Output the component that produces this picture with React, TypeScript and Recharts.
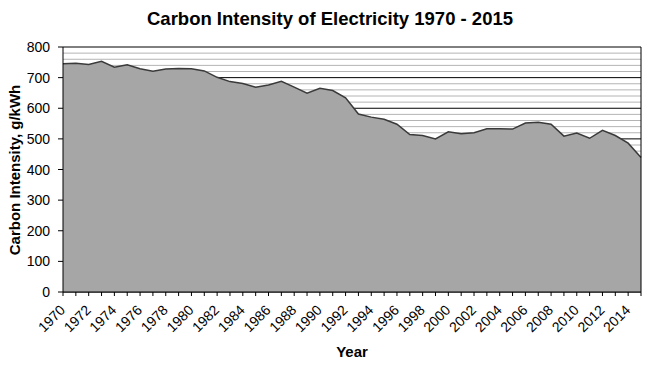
import { Area, AreaChart, CartesianGrid, ReferenceLine, XAxis, YAxis } from "recharts";

const years = [
  1970, 1971, 1972, 1973, 1974, 1975, 1976, 1977, 1978, 1979,
  1980, 1981, 1982, 1983, 1984, 1985, 1986, 1987, 1988, 1989,
  1990, 1991, 1992, 1993, 1994, 1995, 1996, 1997, 1998, 1999,
  2000, 2001, 2002, 2003, 2004, 2005, 2006, 2007, 2008, 2009,
  2010, 2011, 2012, 2013, 2014, 2015,
];

const intensity = [
  745, 747, 743, 753, 734, 742, 729, 721, 728, 730,
  729, 722, 701, 687, 681, 669, 676, 688, 669, 649,
  665, 658, 634, 581, 571, 564, 548, 514, 511, 500,
  523, 517, 520, 533, 533, 532, 552, 554, 548, 509,
  519, 502, 528, 511, 486, 439,
];

// grid every 20, labels every 100
const yTicks = [
  0, 20, 40, 60, 80, 100, 120, 140, 160, 180, 200, 220, 240, 260, 280, 300,
  320, 340, 360, 380, 400, 420, 440, 460, 480, 500, 520, 540, 560, 580, 600,
  620, 640, 660, 680, 700, 720, 740, 760, 780, 800,
];

const data = years.map((year, i) => ({ year, value: intensity[i] }));

const font = "'Liberation Sans', Arial, sans-serif";

const GridLine = (props: any) => {
  const major = yTicks[props.index] % 100 === 0;
  return (
    <line
      key={props.key}
      x1={props.x1}
      y1={props.y1}
      x2={props.x2}
      y2={props.y2}
      stroke={major ? "#000" : "#b4b4b4"}
      strokeWidth={1}
    />
  );
};

const YTick = (props: any) => {
  const { x, y, payload } = props;
  if (payload.value % 100 !== 0) return null;
  return (
    <g>
      <line x1={x + 5} y1={y} x2={x + 10} y2={y} stroke="#000" />
      <text x={x - 3} y={y} dy={5} textAnchor="end" fontSize={14} fill="#000" fontFamily={font}>
        {payload.value}
      </text>
    </g>
  );
};

const XTick = (props: any) => {
  const { x, y, payload } = props;
  if (payload.value % 2 !== 0) return null;
  const tx = x + 3;
  const ty = y + 13;
  return (
    <text
      x={tx}
      y={ty}
      textAnchor="end"
      fontSize={14}
      fill="#000"
      fontFamily={font}
      transform={`rotate(-45 ${tx} ${ty})`}
    >
      {payload.value}
    </text>
  );
};

const App = () => {
  return (
    <div style={{ position: "absolute", left: 0, top: 0, width: 656, height: 368, background: "#fff" }}>
      <div
        style={{
          position: "absolute",
          left: 0,
          width: 656,
          top: 8,
          textAlign: "center",
          fontFamily: font,
          fontWeight: "bold",
          fontSize: 18.5,
          paddingLeft: 2,
        }}
      >
        Carbon Intensity of Electricity 1970 - 2015
      </div>
      <div
        style={{
          position: "absolute",
          left: 14,
          top: 170,
          transform: "translate(-50%, -50%) rotate(-90deg)",
          fontFamily: font,
          fontWeight: "bold",
          fontSize: 15,
          whiteSpace: "nowrap",
        }}
      >
        Carbon Intensity, g/kWh
      </div>
      <div
        style={{
          position: "absolute",
          left: 352,
          top: 351,
          transform: "translate(-50%, -50%)",
          fontFamily: font,
          fontWeight: "bold",
          fontSize: 15,
        }}
      >
        Year
      </div>
      <AreaChart width={656} height={368} data={data} margin={{ top: 47, right: 15, bottom: 0, left: 0 }}>
        <CartesianGrid vertical={false} horizontal={GridLine} />
        <XAxis
          dataKey="year"
          interval={0}
          height={76}
          tick={XTick}
          tickSize={4}
          tickLine={{ stroke: "#000" }}
          axisLine={{ stroke: "#000" }}
        />
        <YAxis
          width={63}
          domain={[0, 800]}
          ticks={yTicks}
          interval={0}
          tickSize={5}
          tickMargin={5}
          tickLine={false}
          tick={YTick}
          axisLine={{ stroke: "#000" }}
        />
        <Area
          type="linear"
          dataKey="value"
          fill="#a6a6a6"
          fillOpacity={1}
          stroke="#3a3a3a"
          strokeWidth={1.5}
          isAnimationActive={false}
          dot={false}
          activeDot={false}
        />
        <ReferenceLine x={2015} stroke="#000" />
      </AreaChart>
    </div>
  );
};

export default App;
